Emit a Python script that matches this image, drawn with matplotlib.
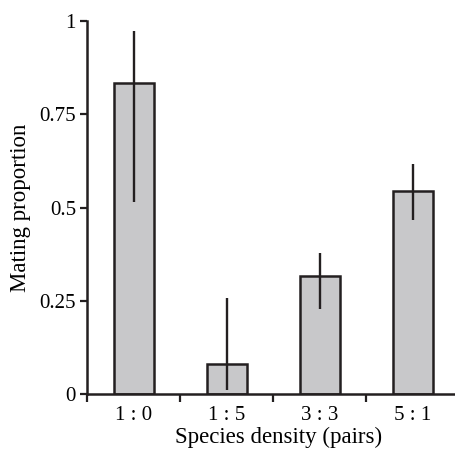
import numpy as np
import matplotlib
matplotlib.use('Agg')
import matplotlib.pyplot as plt

categories = ['1 : 0', '1 : 5', '3 : 3', '5 : 1']
proportion = [0.833, 0.080, 0.318, 0.545]
err_low = [0.514, 0.012, 0.228, 0.466]
err_high = [0.973, 0.259, 0.379, 0.616]

plt.rcParams['font.family'] = ['Liberation Serif', 'DejaVu Serif']
dark = '#231f20'

fig = plt.figure(figsize=(4.55, 4.57), dpi=100)
ax = fig.add_axes([87/455, 1 - 394.3/457, 1 - 87/455, (394.3 - 21)/457])

x = np.arange(len(categories))
ax.bar(x, proportion, width=0.43, color='#c8c8ca', edgecolor=dark, linewidth=1.8, zorder=2)
ax.vlines(x, err_low, err_high, color=dark, linewidth=1.7, zorder=3)

ax.set_xlim(-0.5, 3.45)
ax.set_ylim(0, 1)
ax.set_yticks([0, 0.25, 0.5, 0.75, 1])
ax.set_yticklabels(['0', '0.25', '0.5', '0.75', '1'])
ax.set_xticks(x)
ax.set_xticklabels(categories)
ax.set_xticks(np.arange(-0.5, 3.5, 1), minor=True)

for s in ['top', 'right']:
    ax.spines[s].set_visible(False)
for s in ['left', 'bottom']:
    ax.spines[s].set_color(dark)
    ax.spines[s].set_linewidth(1.8)

ax.tick_params(axis='x', which='major', length=0, pad=8.5, labelsize=15)
ax.tick_params(axis='x', which='minor', length=6, width=1.6, color=dark, direction='out')
ax.tick_params(axis='y', length=5, width=1.6, color=dark, labelsize=15, pad=3)

ax.set_xlabel('Species density (pairs)', fontsize=16.5)
ax.xaxis.set_label_coords(0.52, -0.088)
ax.set_ylabel('Mating proportion', fontsize=16.5, labelpad=6)

fig.savefig('out.png', dpi=100)
